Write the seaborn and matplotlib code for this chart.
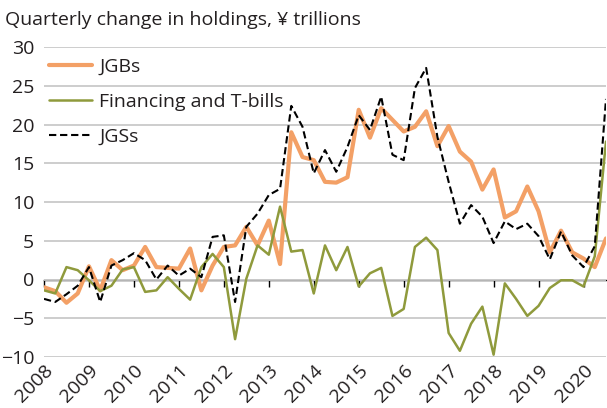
import numpy as np
import pandas as pd
import matplotlib
matplotlib.use("Agg")
import matplotlib.pyplot as plt
import matplotlib.transforms as mtransforms
import seaborn as sns

# ---- data (quarterly, 2008Q1 .. 2020Q3) ----
quarters = pd.period_range("2008Q1", "2020Q3", freq="Q")
jgbs = [-1.0, -1.5, -3.0, -1.8, 1.7, -1.4, 2.5, 1.2, 1.8, 4.2, 1.6, 1.5, 1.4, 4.0,
        -1.4, 1.8, 4.2, 4.4, 6.8, 4.4, 7.6, 2.0, 19.0, 15.8, 15.4, 12.6, 12.5, 13.2,
        21.9, 18.3, 22.1, 20.6, 19.1, 19.7, 21.7, 17.2, 19.8, 16.5, 15.2, 11.6, 14.2,
        8.0, 8.8, 12.0, 8.8, 3.5, 6.3, 3.5, 2.7, 1.6, 5.3]
tbills = [-1.4, -1.8, 1.6, 1.2, -0.1, -1.5, -0.8, 1.3, 1.6, -1.6, -1.4, 0.3, -1.2, -2.6,
          1.6, 3.3, 1.6, -7.7, 0.1, 4.4, 3.2, 9.4, 3.6, 3.8, -1.8, 4.4, 1.2, 4.2,
          -0.9, 0.8, 1.5, -4.7, -3.8, 4.2, 5.4, 3.8, -6.9, -9.2, -5.7, -3.5, -9.7,
          -0.5, -2.5, -4.7, -3.4, -1.1, -0.1, -0.1, -0.9, 3.0, 17.8]
jgss = [-2.5, -2.9, -1.9, -0.8, 1.6, -2.9, 1.8, 2.5, 3.4, 2.5, 0.0, 1.8, 0.5, 1.4,
        0.3, 5.5, 5.7, -2.9, 6.8, 8.5, 10.9, 11.7, 22.4, 19.7, 13.7, 16.7, 13.9, 17.1,
        21.2, 19.3, 23.6, 16.1, 15.4, 24.7, 27.3, 18.4, 12.6, 7.2, 9.6, 8.1, 4.7,
        7.5, 6.5, 7.2, 5.6, 2.6, 6.2, 3.1, 1.6, 4.3, 23.3]
years = list(range(2008, 2021))
yticks = [-10, -5, 0, 5, 10, 15, 20, 25, 30]

t = np.array([p.year + (p.quarter - 1) / 4 for p in quarters])
df = pd.DataFrame({"t": t, "JGBs": jgbs, "Financing and T-bills": tbills, "JGSs": jgss})

sns.set_theme(style="white")
plt.rcParams["font.family"] = ["Open Sans", "DejaVu Sans"]
TXT = "#231f20"
FS = 14

fig = plt.figure(figsize=(6.07, 4.08), dpi=100)
ax = fig.add_axes([44 / 607, 1 - 357 / 408, 562 / 607, 310 / 408])

ax.set_ylim(-10, 30)
ax.set_xlim(2008, 2020.5)
ax.set_yticks(yticks)
ax.yaxis.grid(True, color="#c9c9c9", linewidth=1.3)
ax.set_axisbelow(True)

sns.lineplot(data=df, x="t", y="JGBs", ax=ax, color="#F3A066", linewidth=3.0,
             label="JGBs")
sns.lineplot(data=df, x="t", y="Financing and T-bills", ax=ax, color="#8F9A3C",
             linewidth=1.8, label="Financing and T-bills")
sns.lineplot(data=df, x="t", y="JGSs", ax=ax, color="black", linewidth=1.5,
             linestyle=(0, (3.5, 1.8)), label="JGSs")

for s in ["top", "right", "left", "bottom"]:
    ax.spines[s].set_visible(False)

ax.set_xlabel("")
ax.set_ylabel("")
ax.set_xticks(years)
ax.set_xticklabels([str(y) for y in years], rotation=45, ha="right",
                   rotation_mode="anchor", fontsize=FS, color=TXT)
off = mtransforms.ScaledTranslation(6 / 100, 0, fig.dpi_scale_trans)
for lab in ax.get_xticklabels():
    lab.set_transform(lab.get_transform() + off)
ax.tick_params(axis="x", length=0, pad=3)
ax.tick_params(axis="y", length=0, pad=7, labelsize=FS, labelcolor=TXT)

# zero line with tick marks
sec = ax.secondary_xaxis((0 - (-10)) / 40)
sec.set_xticks(years)
sec.set_xticklabels([])
sec.tick_params(axis="x", direction="out", length=5, width=1, color="black")
sec.spines["bottom"].set_color("black")
sec.spines["bottom"].set_linewidth(1.0)

leg = ax.legend(loc="upper left", bbox_to_anchor=(-0.012, 1.002), frameon=False,
                fontsize=FS, handlelength=2.2, handletextpad=0.4,
                labelspacing=0.88, borderaxespad=0.2)
for txt in leg.get_texts():
    txt.set_color(TXT)

fig.text(5 / 607, 1 - 20 / 408, "Quarterly change in holdings, \u00a5 trillions",
         fontsize=FS, color=TXT, ha="left", va="center")

fig.savefig("out.png", dpi=100)
